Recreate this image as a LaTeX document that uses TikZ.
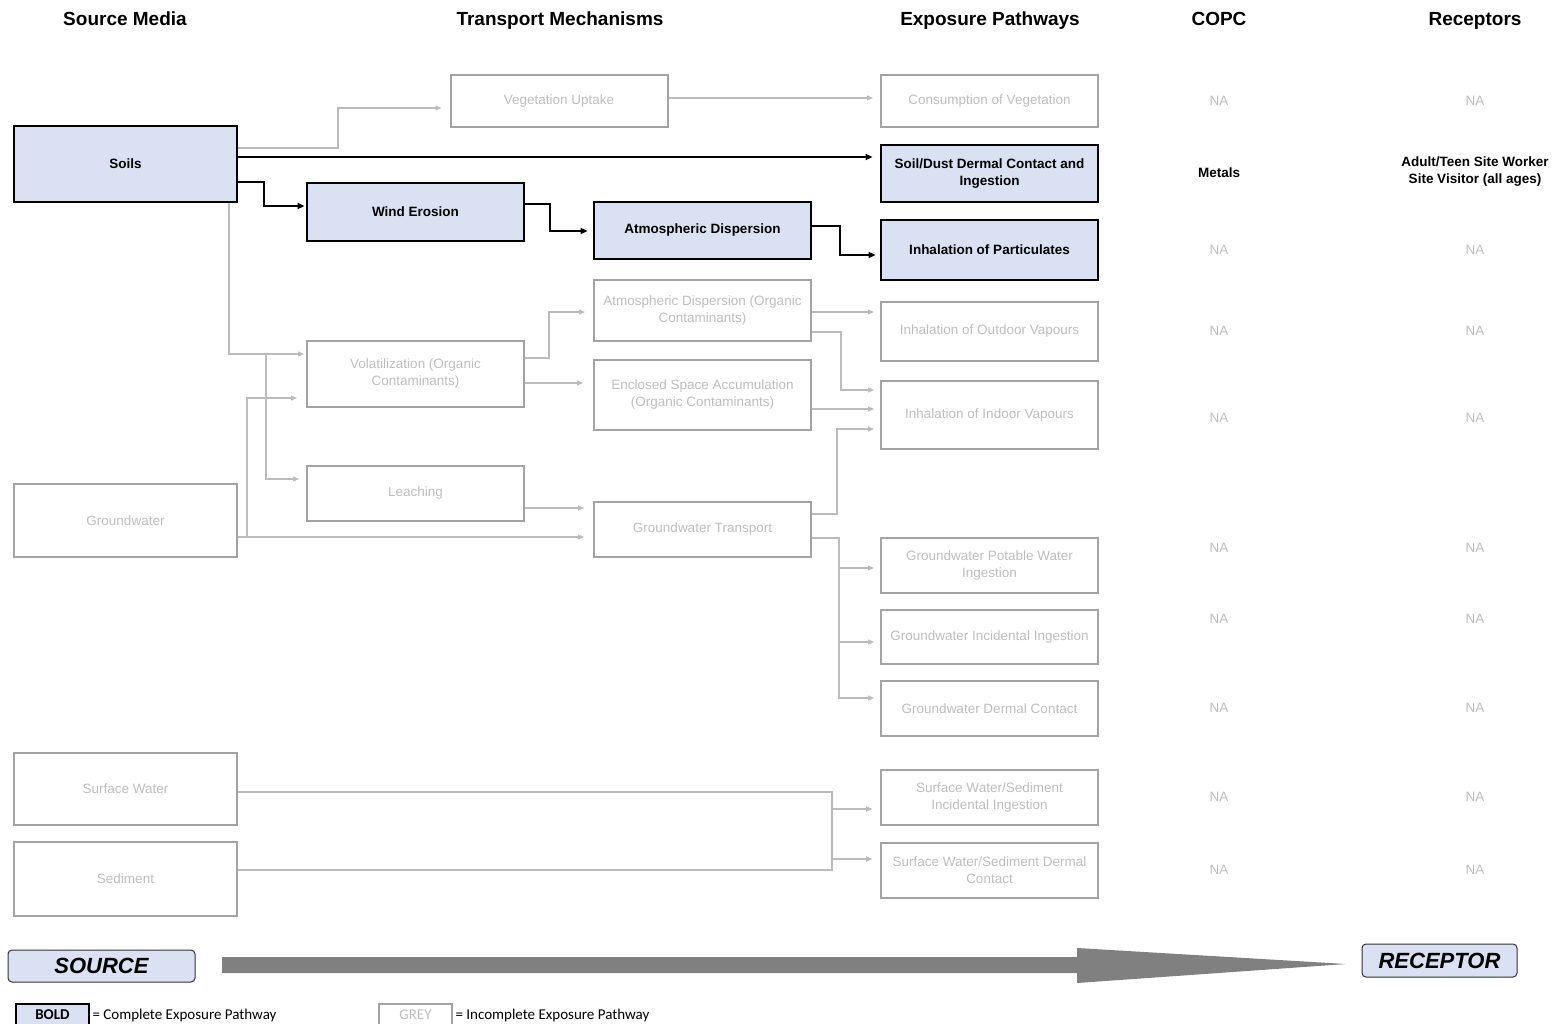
\documentclass[tikz,border=0pt]{standalone}
\usepackage{fontspec}
\setmainfont{Liberation Sans}
\newfontfamily\calib{Carlito}
\usetikzlibrary{arrows.meta,calc}
\definecolor{boxblue}{HTML}{D9E1F2}
\definecolor{boxgrey}{HTML}{A3A3A3}
\definecolor{txtgrey}{HTML}{BDBDBD}
\definecolor{linegrey}{HTML}{BBBBBB}
\definecolor{arrowgrey}{HTML}{808080}
\newcommand\bxfont{\fontsize{13.5}{17}\selectfont}
\newcommand\hdfont{\fontsize{19}{22}\selectfont\bfseries}
\tikzset{
  boldbox/.style={draw=black, line width=2.8pt, fill=boxblue, font=\bxfont\bfseries, align=center, text=black, inner sep=2pt},
  greybox/.style={draw=boxgrey, line width=2pt, font=\bxfont, align=center, text=txtgrey, inner sep=2pt},
  wide/.style={minimum width=217pt},
  srcw/.style={minimum width=223pt},
  hdr/.style={font=\hdfont, text=black, anchor=base},
  na/.style={font=\bxfont, text=txtgrey},
  bk/.style={font=\bxfont\bfseries, text=black, align=center},
  blk/.style={draw=black, line width=1.6pt, -{Triangle[length=7pt,width=6pt]}},
  gry/.style={draw=linegrey, line width=1.2pt, -{Triangle[length=6pt,width=5pt]}},
  pill/.style={draw=black!80, line width=1pt, rounded corners=4pt, fill=boxblue, font=\fontsize{22}{24}\selectfont\bfseries\itshape}
}
\begin{document}
\begin{tikzpicture}[x=1pt,y=-1pt]
\useasboundingbox (0,0) rectangle (1557,1024);
% headers
\node[hdr] (h1) at (125,26) {Source Media};
\node[hdr] (h2) at (560,26) {Transport Mechanisms};
\node[hdr] (h3) at (990,26) {Exposure Pathways};
\node[hdr] (h4) at (1219,26) {COPC};
\node[hdr] (h5) at (1475,26) {Receptors};
% source media
\node[boldbox, srcw, minimum height=76pt] (soils) at (125.5,164) {Soils};
\node[greybox, srcw, minimum height=73pt] (gw) at (125.5,520.5) {Groundwater};
\node[greybox, srcw, minimum height=72pt] (sw) at (125.5,789) {Surface Water};
\node[greybox, srcw, minimum height=74pt] (sed) at (125.5,879) {Sediment};
% transport
\node[greybox, wide, minimum height=52pt] (veg) at (559,101) {Vegetation Uptake};
\node[boldbox, wide, minimum height=58pt] (wind) at (415.5,212) {Wind Erosion};
\node[boldbox, wide, minimum height=57pt] (atm) at (702.5,230.5) {Atmospheric Dispersion};
\node[greybox, wide, minimum height=61pt] (atmorg) at (702.5,310.5) {Atmospheric Dispersion (Organic\\Contaminants)};
\node[greybox, wide, minimum height=66pt] (vol) at (415.5,374) {Volatilization (Organic\\Contaminants)};
\node[greybox, wide, minimum height=70pt] (encl) at (702.5,395) {Enclosed Space Accumulation\\(Organic Contaminants)};
\node[greybox, wide, minimum height=55pt] (leach) at (415.5,493.5) {Leaching};
\node[greybox, wide, minimum height=55pt] (gwt) at (702.5,529.5) {Groundwater Transport};
% exposure pathways
\node[greybox, wide, minimum height=52pt] (consveg) at (989.5,101) {Consumption of Vegetation};
\node[boldbox, wide, minimum height=57pt] (dermal) at (989.5,173.5) {Soil/Dust Dermal Contact and\\Ingestion};
\node[boldbox, wide, minimum height=60pt] (inhpart) at (989.5,250) {Inhalation of Particulates};
\node[greybox, wide, minimum height=59pt] (outdoor) at (989.5,331.5) {Inhalation of Outdoor Vapours};
\node[greybox, wide, minimum height=68pt] (indoor) at (989.5,415) {Inhalation of Indoor Vapours};
\node[greybox, wide, minimum height=55pt] (potable) at (989.5,565.5) {Groundwater Potable Water\\Ingestion};
\node[greybox, wide, minimum height=54pt] (incid) at (989.5,637) {Groundwater Incidental Ingestion};
\node[greybox, wide, minimum height=55pt] (gwderm) at (989.5,708.5) {Groundwater Dermal Contact};
\node[greybox, wide, minimum height=55pt] (swinc) at (989.5,797.5) {Surface Water/Sediment\\Incidental Ingestion};
\node[greybox, wide, minimum height=55pt] (swderm) at (989.5,870.5) {Surface Water/Sediment Dermal\\Contact};
% COPC and receptors
\node[na] (c1) at (1219,101) {NA};            \node[na] (r1) at (1475,101) {NA};
\node[bk] (c2) at (1219,173) {Metals};        \node[bk] (r2) at (1475,172) {Adult/Teen Site Worker\\Site Visitor (all ages)};
\node[na] (c3) at (1219,250) {NA};            \node[na] (r3) at (1475,250) {NA};
\node[na] (c4) at (1219,331) {NA};            \node[na] (r4) at (1475,331) {NA};
\node[na] (c5) at (1219,418) {NA};            \node[na] (r5) at (1475,418) {NA};
\node[na] (c6) at (1219,548) {NA};            \node[na] (r6) at (1475,548) {NA};
\node[na] (c7) at (1219,619) {NA};            \node[na] (r7) at (1475,619) {NA};
\node[na] (c8) at (1219,708) {NA};            \node[na] (r8) at (1475,708) {NA};
\node[na] (c9) at (1219,797) {NA};            \node[na] (r9) at (1475,797) {NA};
\node[na] (c10) at (1219,870) {NA};           \node[na] (r10) at (1475,870) {NA};
% bold connectors
\draw[blk, shorten >=7pt] (soils.east |- 0,157) -- (dermal.west |- 0,157);
\draw[blk, shorten >=1pt] (soils.east |- 0,182) -- (264,182) |- (wind.west |- 0,206);
\draw[blk, shorten >=5pt] (wind.east |- 0,204) -- (550,204) |- (atm.west |- 0,231);
\draw[blk, shorten >=4pt] (atm.east |- 0,226) -- (840,226) |- (inhpart.west |- 0,255);
% grey connectors
\draw[gry, shorten >=8pt] (soils.east |- 0,148) -- (338,148) |- (veg.west |- 0,108);
\draw[gry, shorten >=7pt] (veg.east |- 0,98) -- (consveg.west |- 0,98);
\draw[gry, shorten >=2pt] (soils.south -| 229,0) -- (229,354) -- (vol.west |- 0,354);
\draw[gry, shorten >=7pt] (soils.south -| 229,0) -- (229,354) -- (266,354) -- (266,479) -- (leach.west |- 0,479);
\draw[gry, shorten >=9pt] (gw.east |- 0,537) -- (247,537) |- (vol.west |- 0,398);
\draw[gry, shorten >=9pt] (gw.east |- 0,537) -- (gwt.west |- 0,537);
\draw[gry, shorten >=8pt] (vol.east |- 0,358) -- (549,358) |- (atmorg.west |- 0,312);
\draw[gry, shorten >=10pt] (vol.east |- 0,383) -- (encl.west |- 0,383);
\draw[gry, shorten >=9pt] (leach.east |- 0,508) -- (gwt.west |- 0,508);
\draw[gry, shorten >=6pt] (atmorg.east |- 0,312) -- (outdoor.west |- 0,312);
\draw[gry, shorten >=6pt] (atmorg.east |- 0,332) -- (841,332) |- (indoor.west |- 0,390);
\draw[gry, shorten >=6pt] (encl.east |- 0,409) -- (indoor.west |- 0,409);
\draw[gry, shorten >=6pt] (gwt.east |- 0,514) -- (837,514) |- (indoor.west |- 0,429);
\draw[gry, shorten >=6pt] (gwt.east |- 0,538) -- (839,538) |- (potable.west |- 0,568);
\draw[gry, shorten >=6pt] (gwt.east |- 0,538) -- (839,538) |- (incid.west |- 0,642);
\draw[gry, shorten >=6pt] (gwt.east |- 0,538) -- (839,538) |- (gwderm.west |- 0,698);
\draw[gry, shorten >=8pt] (sw.east |- 0,792) -- (832,792) |- (swinc.west |- 0,809);
\draw[gry, shorten >=8pt] (sw.east |- 0,792) -- (832,792) |- (swderm.west |- 0,859);
\draw[gry, shorten >=8pt] (sed.east |- 0,870) -- (832,870) |- (swinc.west |- 0,809);
\draw[gry, shorten >=8pt] (sed.east |- 0,870) -- (832,870) |- (swderm.west |- 0,859);
% source -> receptor band
\node[pill, minimum width=187pt, minimum height=32pt] (src) at (101.5,966) {SOURCE};
\node[pill, minimum width=155pt, minimum height=33pt] (rec) at (1439.5,960.5) {RECEPTOR};
\fill[arrowgrey] (222,957) -- (1077,957) -- (1077,948) -- (1346,964) -- (1077,983) -- (1077,973) -- (222,973) -- cycle;
% legend
\node[draw=black, line width=2.4pt, fill=boxblue, minimum width=73pt, minimum height=28pt, font=\calib\fontsize{15}{17}\selectfont\bfseries] (lbold) at (52.5,1018) {\raisebox{6pt}{BOLD}};
\node[anchor=west, font=\calib\fontsize{15}{17}\selectfont] (lboldt) at (89,1015) {= Complete Exposure Pathway};
\node[draw=boxgrey, line width=1.2pt, minimum width=73pt, minimum height=28pt, text=txtgrey, font=\calib\fontsize{15}{17}\selectfont] (lgrey) at (415.5,1018) {\raisebox{6pt}{GREY}};
\node[anchor=west, font=\calib\fontsize{15}{17}\selectfont] (lgreyt) at (452,1015) {= Incomplete Exposure Pathway};
\end{tikzpicture}
\end{document}
